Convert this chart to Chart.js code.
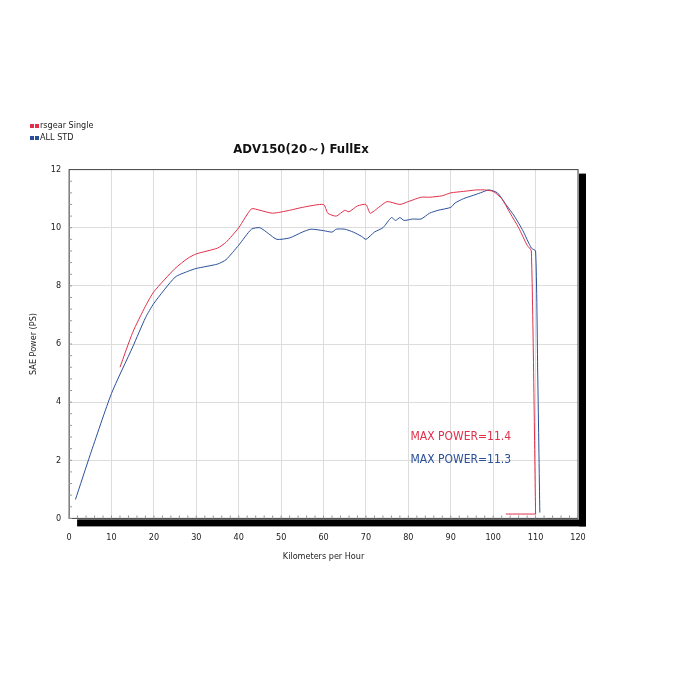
<!DOCTYPE html>
<html><head><meta charset="utf-8">
<script src="https://cdn.jsdelivr.net/npm/chart.js@4/dist/chart.umd.min.js"></script>
<style>html,body{margin:0;background:#fff}#w{width:680px;height:680px}</style></head>
<body><div id="w"><canvas id="c"></canvas></div>
<script>
const redX=[12,15,18,20,25,28,30,35,37,40,43,45,48,52,55,60,61,63,65,66,68,70,71,73,75,78,80,83,85,88,90,93,96,98,100,102,104,106,108,109,110,110,103];
const redY=[5.2,6.4,7.3,7.8,8.6,8.95,9.1,9.3,9.5,10.0,10.65,10.6,10.5,10.6,10.7,10.8,10.5,10.4,10.6,10.55,10.75,10.8,10.5,10.7,10.9,10.8,10.9,11.05,11.05,11.1,11.2,11.25,11.3,11.3,11.25,11.0,10.5,10.0,9.4,9.2,0.15,0.15,0.15];
const blueX=[1.5,5,10,15,18,20,25,28,30,35,37,40,43,45,47,49,52,55,57,60,62,63,65,67,69,70,72,74,76,77,78,79,81,83,85,87,90,91,93,95,97,99,101,103,105,107,109,110,110.5,111];
const blueY=[0.65,2.2,4.3,5.9,6.9,7.4,8.3,8.5,8.6,8.75,8.9,9.4,9.95,10.0,9.8,9.6,9.65,9.85,9.95,9.9,9.85,9.95,9.95,9.85,9.7,9.6,9.85,10.0,10.35,10.25,10.35,10.25,10.3,10.3,10.5,10.6,10.7,10.85,11.0,11.1,11.2,11.3,11.2,10.8,10.4,9.9,9.3,9.2,5,0.2];
const seriesNames=["rsgear Single","ALL STD"];
const maxLabels=["MAX POWER=11.4","MAX POWER=11.3"];
const RED="#e0304a",BLUE="#2a4f9a",F="'DejaVu Sans Condensed','Liberation Sans Narrow',sans-serif";
const deco={id:'deco',
beforeDatasetsDraw(ch){const{ctx,chartArea:a}=ch;ctx.save();ctx.fillStyle='#000';
 ctx.fillRect(a.right+1,a.top+4,7,a.bottom-a.top+4);ctx.fillRect(a.left+8,a.bottom+1,a.right-a.left,7);
 ctx.strokeStyle='#444';ctx.lineWidth=1;ctx.strokeRect(a.left,a.top,a.right-a.left,a.bottom-a.top);ctx.restore();},
afterDraw(ch){const{ctx}=ch,x=ch.scales.x,y=ch.scales.y;ctx.save();
 ctx.font="12px "+F;ctx.textBaseline='middle';
 ctx.fillStyle=RED;ctx.fillText(maxLabels[0],x.getPixelForValue(80.5),y.getPixelForValue(2.8));
 ctx.fillStyle=BLUE;ctx.fillText(maxLabels[1],x.getPixelForValue(80.5),y.getPixelForValue(2.0));
 ctx.font="9px "+F;
 [[RED,seriesNames[0],126],[BLUE,seriesNames[1],138]].forEach(([c,t,yy])=>{ctx.fillStyle=c;ctx.fillRect(30,yy-2,4,4);ctx.fillRect(35,yy-2,4,4);ctx.fillStyle='#222';ctx.fillText(t,40,yy);});
 ctx.strokeStyle='#999';ctx.lineWidth=1;
 for(let v=0;v<=120;v+=2){const p=x.getPixelForValue(v);ctx.beginPath();ctx.moveTo(p,y.bottom);ctx.lineTo(p,y.bottom-3);ctx.stroke();}
 for(let v=0;v<=12;v+=0.4){const p=y.getPixelForValue(v);ctx.beginPath();ctx.moveTo(x.left,p);ctx.lineTo(x.left+3,p);ctx.stroke();}
 ctx.restore();}};
new Chart(document.getElementById('c'),{type:'line',
data:{datasets:[
 {label:seriesNames[0],data:redX.map((v,i)=>({x:v,y:redY[i]})),borderColor:RED,borderWidth:1,pointRadius:0,tension:0.2},
 {label:seriesNames[1],data:blueX.map((v,i)=>({x:v,y:blueY[i]})),borderColor:BLUE,borderWidth:1,pointRadius:0,tension:0.2}]},
plugins:[deco],
options:{responsive:true,maintainAspectRatio:false,animation:false,
 layout:{padding:{left:24,top:142,right:102,bottom:114}},
 plugins:{legend:{display:false},tooltip:{enabled:false},
  title:{display:true,text:'ADV150(20～) FullEx',font:{family:F,size:13},color:'#111',padding:{top:0,bottom:12},align:'center'}},
 scales:{
  x:{type:'linear',min:0,max:120,border:{display:false},grid:{color:'#ddd',drawTicks:false},ticks:{stepSize:10,font:{family:F,size:9},color:'#222',padding:14},
   title:{display:true,text:'Kilometers per Hour',font:{family:F,size:9},color:'#222',padding:{top:-6}}},
  y:{min:0,max:12,border:{display:false},grid:{color:'#ddd',drawTicks:false},ticks:{stepSize:2,font:{family:F,size:9},color:'#222',padding:8},
   title:{display:true,text:'SAE Power (PS)',font:{family:F,size:9},color:'#222'}}}}});
</script></body></html>
